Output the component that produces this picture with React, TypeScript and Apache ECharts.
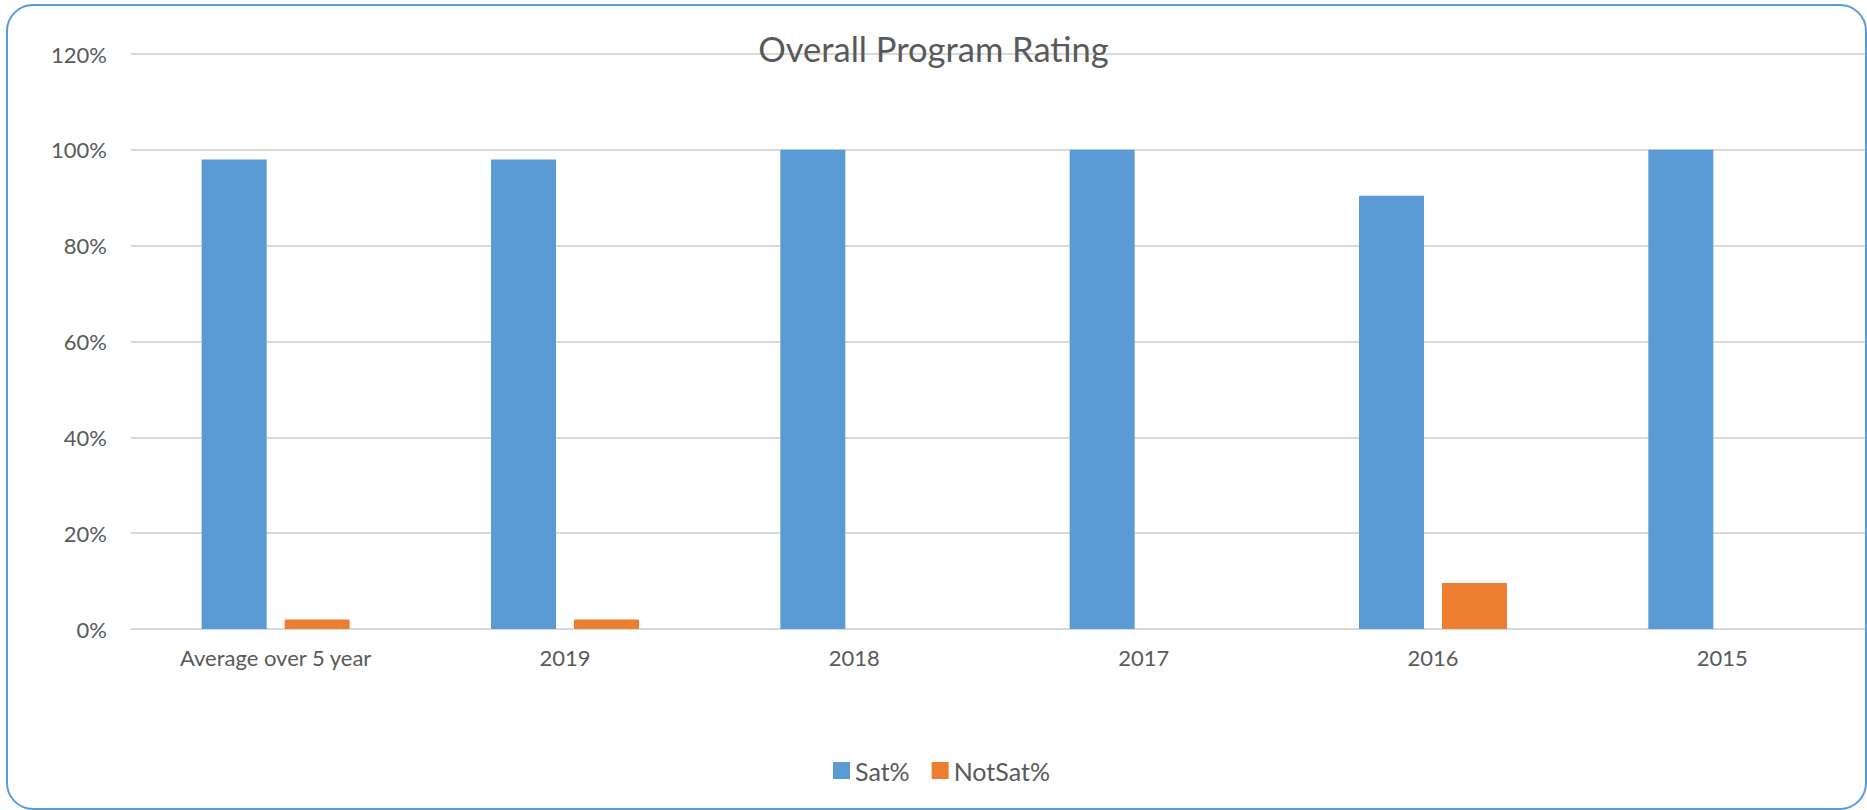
import React, { useEffect, useRef } from "react";
import * as echarts from "echarts";

const categories = ["Average over 5 year", "2019", "2018", "2017", "2016", "2015"];
const satValues = [98, 98, 100, 100, 90.4, 100];
const notSatValues = [2, 2, 0, 0, 9.6, 0];
const seriesNames = ["Sat%", "NotSat%"];
const titleText = "Overall Program Rating";

const FONT = "Lato";
const TEXT = "#595959";

export default function App() {
  const ref = useRef<HTMLDivElement>(null);
  useEffect(() => {
    if (!ref.current) return;
    const chart = echarts.init(ref.current, null, { renderer: "svg" });
    chart.setOption({
      animation: false,
      backgroundColor: "#ffffff",
      title: {
        text: titleText,
        left: "center",
        top: 26,
        textStyle: { fontFamily: FONT, fontSize: 34.5, fontWeight: "normal", color: TEXT },
      },
      legend: {
        data: seriesNames,
        left: 828,
        top: 753,
        icon: "rect",
        itemWidth: 17,
        itemHeight: 17,
        itemGap: 22,
        textStyle: { fontFamily: FONT, fontSize: 25, color: TEXT },
      },
      grid: { left: 131, top: 54, width: 1740, height: 575 },
      xAxis: {
        type: "category",
        data: categories,
        axisLine: { lineStyle: { color: "#D9D9D9", width: 2 } },
        axisTick: { show: false },
        axisLabel: { fontFamily: FONT, fontSize: 22, color: TEXT, margin: 17 },
      },
      yAxis: {
        type: "value",
        min: 0,
        max: 120,
        interval: 20,
        axisLine: { show: false },
        axisTick: { show: false },
        splitLine: { lineStyle: { color: "#D9D9D9", width: 2 } },
        axisLabel: { fontFamily: FONT, fontSize: 22, color: TEXT, margin: 24, formatter: "{value}%" },
      },
      series: [
        {
          name: seriesNames[0],
          type: "bar",
          data: satValues,
          barWidth: 65,
          barGap: "27.7%",
          itemStyle: { color: "#5B9BD5" },
        },
        {
          name: seriesNames[1],
          type: "bar",
          data: notSatValues,
          barWidth: 65,
          barGap: "27.7%",
          itemStyle: { color: "#ED7D31" },
        },
      ],
      graphic: [
        {
          type: "rect",
          silent: true,
          shape: { x: 7, y: 5, width: 1859, height: 804, r: 26 },
          style: { fill: "none", stroke: "#5B9BD5", lineWidth: 2 },
          z: 100,
        },
      ],
    });
    return () => chart.dispose();
  }, []);
  return (
    <div
      ref={ref}
      style={{ position: "absolute", left: 0, top: 0, width: 1867, height: 810 }}
    />
  );
}
